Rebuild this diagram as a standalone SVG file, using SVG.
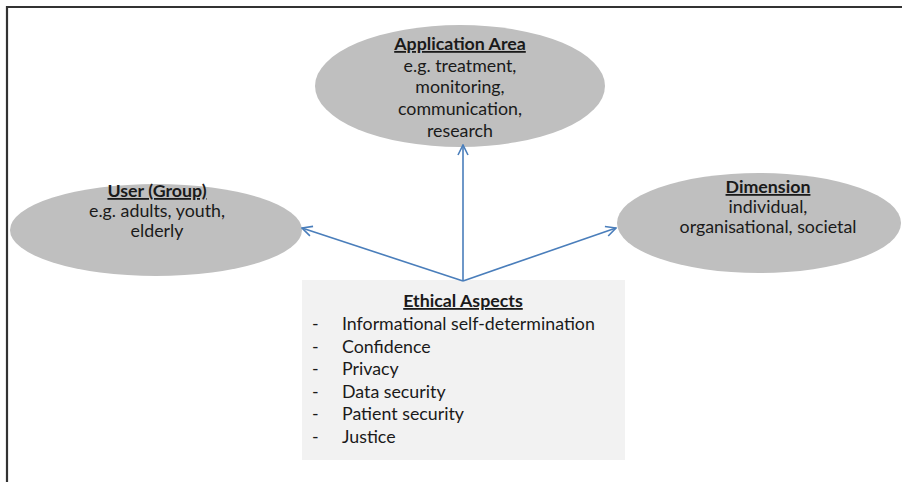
<svg xmlns="http://www.w3.org/2000/svg" width="902" height="482" viewBox="0 0 902 482">
<style>
.ell{fill:#bfbfbf;stroke:none}
.t{font-family:Lato,"Liberation Sans",sans-serif;font-size:17.8px;fill:#1a1a1a;text-anchor:middle}
.h{font-weight:bold;text-decoration:underline}
.l{text-anchor:start}
.conn{stroke:#4a7ebb;stroke-width:1.6;fill:none}
</style>
<defs>
<marker id="arr" viewBox="0 0 12 12" refX="11" refY="6" markerWidth="12" markerHeight="12" markerUnits="userSpaceOnUse" orient="auto">
<path d="M1,1 L11,6 L1,11" fill="none" stroke="#4a7ebb" stroke-width="1.6"/>
</marker>
</defs>
<rect width="902" height="482" fill="#ffffff"/>
<path d="M7,482 V7 H902" fill="none" stroke="#333333" stroke-width="2.2"/>
<g id="application-area">
<ellipse class="ell" cx="460" cy="86" rx="145" ry="61"/>
<text class="t h" x="460" y="50">Application Area</text>
<text class="t" x="460" y="72">e.g. treatment,</text>
<text class="t" x="460" y="93">monitoring,</text>
<text class="t" x="460" y="115">communication,</text>
<text class="t" x="460" y="137">research</text>
</g>
<g id="user-group">
<ellipse class="ell" cx="156" cy="230" rx="146" ry="46"/>
<text class="t h" x="157" y="197">User (Group)</text>
<text class="t" x="157" y="217">e.g. adults, youth,</text>
<text class="t" x="157" y="237">elderly</text>
</g>
<g id="dimension">
<ellipse class="ell" cx="759" cy="223" rx="142" ry="50"/>
<text class="t h" x="768" y="193">Dimension</text>
<text class="t" x="768" y="213">individual,</text>
<text class="t" x="768" y="233">organisational, societal</text>
</g>
<g id="ethical-aspects">
<rect x="302" y="280" width="323" height="180" fill="#f2f2f2"/>
<text class="t h" x="463" y="307">Ethical Aspects</text>
<text class="t l" x="312" y="330">-</text><text class="t l" x="342" y="330">Informational self-determination</text>
<text class="t l" x="312" y="353">-</text><text class="t l" x="342" y="353">Confidence</text>
<text class="t l" x="312" y="375">-</text><text class="t l" x="342" y="375">Privacy</text>
<text class="t l" x="312" y="398">-</text><text class="t l" x="342" y="398">Data security</text>
<text class="t l" x="312" y="420">-</text><text class="t l" x="342" y="420">Patient security</text>
<text class="t l" x="312" y="443">-</text><text class="t l" x="342" y="443">Justice</text>
</g>
<g id="connectors">
<line class="conn" x1="463" y1="281" x2="463" y2="145" marker-end="url(#arr)"/>
<line class="conn" x1="463" y1="281" x2="302" y2="228" marker-end="url(#arr)"/>
<line class="conn" x1="463" y1="281" x2="616" y2="228" marker-end="url(#arr)"/>
</g>
</svg>
